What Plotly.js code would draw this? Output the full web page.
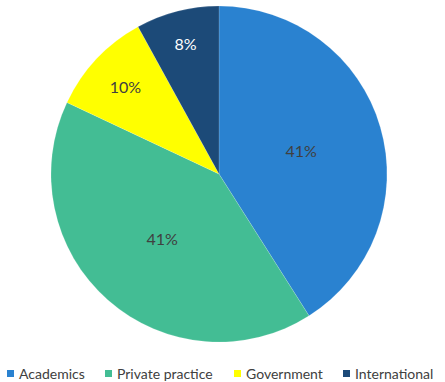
<!DOCTYPE html>
<html><head><meta charset="utf-8">
<script src="https://cdn.plot.ly/plotly-3.0.1.min.js"></script>
<style>html,body{margin:0;padding:0;background:#fff}#c{width:445px;height:382px}</style>
</head><body><div id="c"></div>
<script>
const categories = ["Academics", "Private practice", "Government", "International"];
const values = [41, 41, 10, 8];
const colors = ["#2A82D0", "#43BD94", "#FFFF00", "#1C4A78"];
const textColors = ["#404040", "#404040", "#404040", "#FFFFFF"];

const W = 445, H = 382;
// legend layout (pixels)
const legendSquareX = [7, 105, 234, 343];
const legendY = 373.5;
const shapes = [], annotations = [];
categories.forEach((c, i) => {
  shapes.push({type: "rect", xref: "paper", yref: "paper",
    x0: legendSquareX[i] / W, x1: (legendSquareX[i] + 7) / W,
    y0: 1 - (legendY + 3.5) / H, y1: 1 - (legendY - 3.5) / H,
    fillcolor: colors[i], line: {width: 0}});
  annotations.push({xref: "paper", yref: "paper", x: (legendSquareX[i] + 10) / W, y: 1 - legendY / H,
    xanchor: "left", yanchor: "middle", showarrow: false, text: c,
    font: {family: "Lato, 'Open Sans', sans-serif", size: 14, color: "#404040"}});
});

Plotly.newPlot("c", [{
  type: "pie",
  labels: categories,
  values: values,
  sort: false,
  direction: "clockwise",
  rotation: 0,
  marker: {colors: colors, line: {color: "rgba(255,255,255,0.3)", width: 0.5}},
  textinfo: "percent",
  texttemplate: "%{percent:.0%}",
  textposition: "inside",
  insidetextorientation: "horizontal",
  insidetextfont: {family: "Lato, 'Open Sans', sans-serif", size: 16, color: textColors},
  domain: {x: [51 / W, 387 / W], y: [1 - 342 / H, 1 - 6 / H]},
  hoverinfo: "none"
}], {
  width: W, height: H,
  margin: {l: 0, r: 0, t: 0, b: 0},
  paper_bgcolor: "#fff",
  showlegend: false,
  shapes: shapes,
  annotations: annotations
}, {staticPlot: true});
</script></body></html>
